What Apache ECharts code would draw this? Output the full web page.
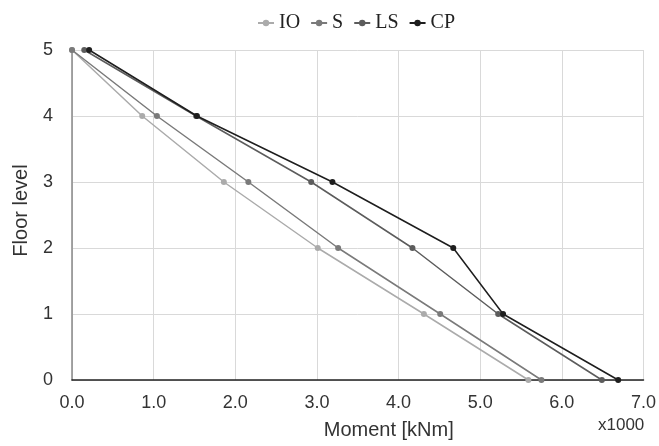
<!DOCTYPE html>
<html><head><meta charset="utf-8">
<script src="https://cdn.jsdelivr.net/npm/echarts@6/dist/echarts.min.js"></script>
<style>html,body{margin:0;padding:0;background:#fff}#c{width:659px;height:446px}</style>
</head><body><div id="c"></div>
<script>
const floors = [5, 4, 3, 2, 1, 0];
const IO = [0.00, 0.86, 1.86, 3.01, 4.31, 5.59];
const S  = [0.00, 1.04, 2.16, 3.26, 4.51, 5.75];
const LS = [0.15, 1.52, 2.93, 4.17, 5.22, 6.49];
const CP = [0.21, 1.53, 3.19, 4.67, 5.28, 6.69];
const seriesNames = ['IO', 'S', 'LS', 'CP'];
const seriesColors = ['#ababab', '#7a7a7a', '#5c5c5c', '#1e1e1e'];
const seriesValues = [IO, S, LS, CP];

const chart = echarts.init(document.getElementById('c'));
chart.setOption({
  animation: false,
  legend: {
    top: 8, left: 252, itemGap: 10, itemWidth: 16, itemHeight: 8,
    textStyle: {fontFamily: 'Liberation Serif', fontSize: 20, color: '#222'},
    data: seriesNames
  },
  grid: {left: 72, right: 12, top: 50, bottom: 66},
  xAxis: {
    type: 'value', min: 0, max: 7, interval: 1,
    name: 'Moment [kNm]', nameLocation: 'middle', nameGap: 40,
    nameTextStyle: {fontFamily: 'Liberation Sans', fontSize: 20, color: '#333', padding: [0, 0, 0, 62]},
    axisLine: {show: true, lineStyle: {color: '#222', width: 1.5}},
    axisTick: {show: false},
    axisLabel: {fontFamily: 'Liberation Sans', fontSize: 18, color: '#333', margin: 14,
      formatter: v => v.toFixed(1)},
    splitLine: {show: true, lineStyle: {color: '#d9d9d9', width: 1}}
  },
  yAxis: {
    type: 'value', min: 0, max: 5, interval: 1,
    name: 'Floor level', nameLocation: 'middle', nameGap: 41, nameRotate: 90,
    nameTextStyle: {fontFamily: 'Liberation Sans', fontSize: 20, color: '#333', padding: [0, 0, 0, 9]},
    axisLine: {show: true, lineStyle: {color: '#888', width: 1.5}},
    axisTick: {show: false},
    axisLabel: {fontFamily: 'Liberation Sans', fontSize: 18, color: '#333', margin: 19},
    splitLine: {show: true, lineStyle: {color: '#d9d9d9', width: 1}}
  },
  graphic: [{
    type: 'text', left: 598, top: 417,
    style: {text: 'x1000', fontFamily: 'Liberation Sans', fontSize: 17, fill: '#333'}
  }],
  series: seriesNames.map((n, i) => ({
    name: n, type: 'line',
    data: seriesValues[i].map((x, j) => [x, floors[j]]),
    symbol: 'circle', symbolSize: 6, showSymbol: true,
    lineStyle: {color: seriesColors[i], width: 1.5},
    itemStyle: {color: seriesColors[i]},
    z: 2 + i
  }))
});
</script></body></html>
